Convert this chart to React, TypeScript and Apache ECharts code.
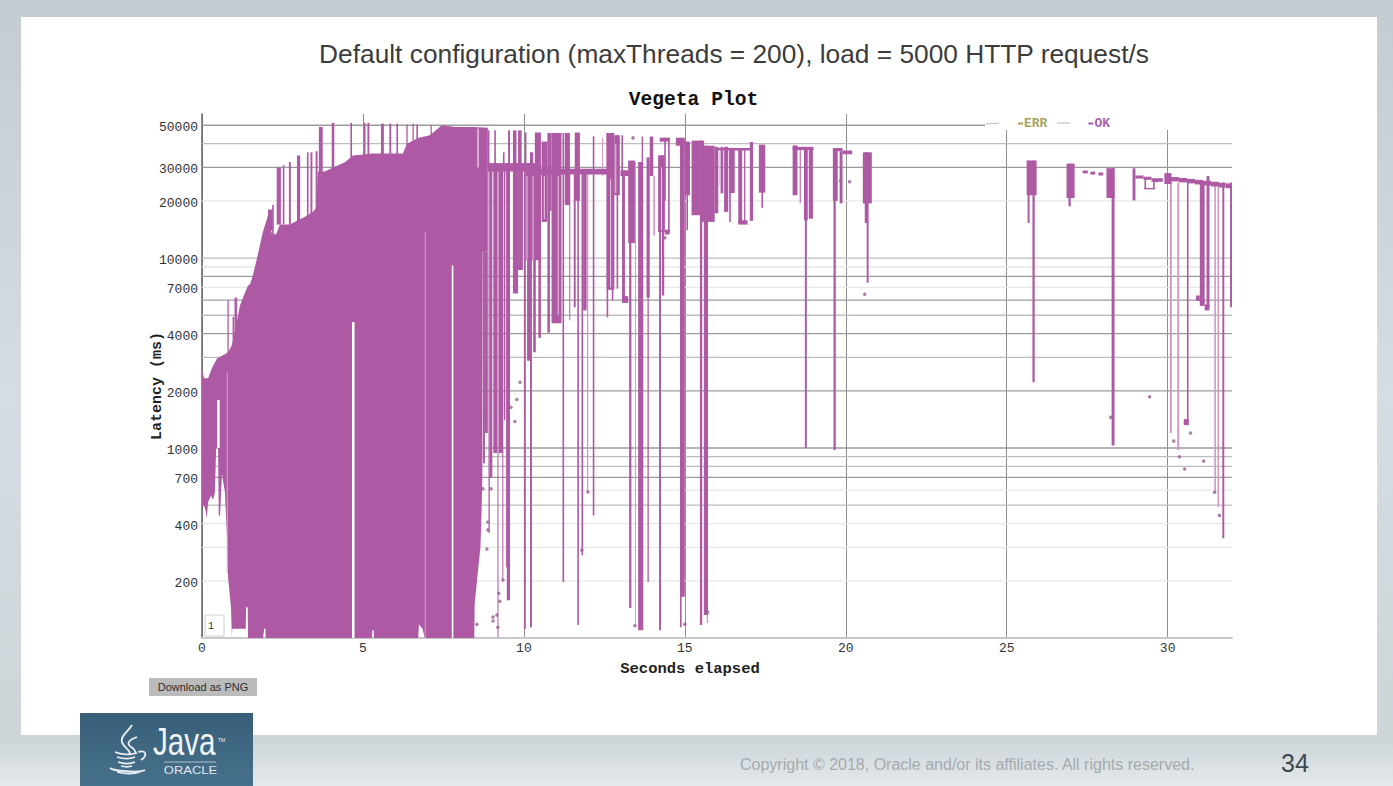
import React, { useEffect, useRef } from "react";
import * as echarts from "echarts";

const slideTitle = "Default configuration (maxThreads = 200), load = 5000 HTTP request/s";
const chartTitle = "Vegeta Plot";
const copyright = "Copyright © 2018, Oracle and/or its affiliates. All rights reserved.";
const pageNumber = "34";

const yTickLabels = [200, 400, 700, 1000, 2000, 4000, 7000, 10000, 20000, 30000, 50000];
const gridValues = [50000, 40000, 30000, 20000, 10000, 9000, 8000, 7000, 6000, 5000, 4000, 3000, 2000, 1000, 900, 800, 700, 600, 500, 400, 300, 200];
const gridTones = [2, 1, 2, 0, 1, 0, 2, 0, 2, 1, 2, 1, 2, 2, 1, 1, 2, 0, 1, 0, 0, 0];

// Solid mass of samples: upper and lower envelope [seconds, latency ms]
const massTop = [
  [0, 2640], [0.06, 2330], [0.19, 2330], [0.31, 2640], [0.47, 2970], [0.71, 3120], [0.81, 3190], [0.93, 3470],
  [1.06, 4420], [1.18, 5630], [1.34, 6600], [1.43, 7170], [1.49, 7260], [1.58, 8100], [1.71, 10000], [1.8, 11700],
  [1.89, 13700], [1.99, 15500], [2.05, 16800], [2.17, 13500], [2.3, 13300], [2.42, 15000], [2.73, 15000], [2.95, 15700],
  [3.2, 16500], [3.45, 17500], [3.54, 18300], [3.57, 21900], [3.6, 28500], [3.82, 28500], [4.07, 30000], [4.44, 31900],
  [4.69, 34700], [5.31, 35500], [6.24, 35500], [6.37, 40000], [6.71, 42800], [7.08, 44300], [7.45, 50000], [7.86, 49000],
  [8.42, 49000], [8.88, 48500],
];
const massBottom = [
  [0, 490], [0.06, 499], [0.11, 470], [0.15, 427], [0.19, 520], [0.28, 563], [0.34, 532], [0.4, 580], [0.44, 1000],
  [0.5, 1000], [0.52, 442], [0.56, 440], [0.62, 730], [0.71, 590], [0.78, 330], [0.81, 208], [0.9, 145], [0.93, 101],
  [0.94, 112], [1.36, 112], [1.37, 145], [1.42, 145], [1.43, 100], [1.9, 100], [1.93, 112], [1.97, 112], [1.98, 100],
  [5.28, 100], [5.29, 110], [5.33, 110], [5.34, 100], [6.72, 100], [6.74, 118], [6.85, 112], [6.92, 100], [8.46, 100],
  [8.47, 150], [8.53, 190], [8.6, 250], [8.65, 300], [8.68, 430], [8.71, 700], [8.72, 10800], [8.88, 10800],
];

// White slits inside the mass [from s, to s, low ms, high ms]
const gaps = [
  [4.66, 4.74, 100, 4600], [7.76, 7.81, 100, 9140], [8.56, 8.59, 30000, 48000], [0.47, 0.55, 1000, 1790],
];
const paleGaps = [[6.92, 6.95, 100, 13700], [0.77, 0.79, 220, 2500]];

// Runs of samples spanning a latency range [from s, to s, low ms, high ms]
const topSpikes = [
  [0.79, 0.83, 3100, 6000], [0.95, 1.0, 3500, 4900], [1.01, 1.09, 3700, 6190], [2.05, 2.2, 14000, 18000], [2.18, 2.23, 13000, 19000],
  [2.32, 2.45, 15000, 30000], [2.51, 2.56, 15000, 30800], [2.7, 2.76, 15000, 32000], [2.95, 3.05, 15000, 34700],
  [3.26, 3.31, 16000, 36000], [3.37, 3.43, 16000, 36000], [3.53, 3.59, 17000, 36500], [3.63, 3.75, 28000, 49000],
  [4.03, 4.11, 30000, 51500], [4.61, 4.66, 33000, 51500], [5.03, 5.08, 33000, 51500], [5.14, 5.2, 33000, 51500],
  [5.56, 5.65, 33000, 51000], [5.82, 5.88, 33000, 51000], [6.04, 6.09, 33000, 51000], [6.35, 6.39, 33000, 50500],
  [6.54, 6.58, 38000, 51000], [6.66, 6.71, 38000, 50500], [7.1, 7.14, 42000, 50000],
];

const dropColumns = [
  [8.73, 8.79, 830, 10800], [8.79, 8.88, 1200, 10800], [8.9, 8.94, 357, 31500], [8.94, 9.02, 702, 31500],
  [9.05, 9.17, 940, 31500], [9.18, 9.2, 101, 31500], [9.22, 9.35, 940, 31500], [9.33, 9.36, 202, 31500],
  [9.38, 9.42, 1400, 31500], [9.44, 9.46, 236, 31500], [9.47, 9.57, 158, 31500], [8.88, 10.2, 28500, 31500],
  [10.2, 12.6, 27500, 29500], [8.88, 8.93, 30000, 47000], [9.08, 9.13, 30000, 47000], [9.35, 9.4, 30000, 36000],
  [9.51, 9.57, 30000, 47000], [9.66, 9.77, 30000, 47000], [9.82, 9.93, 30000, 47000], [10.03, 10.08, 30000, 45800],
  [10.19, 10.29, 30000, 36000], [9.66, 9.82, 6500, 31500], [9.82, 9.97, 8650, 31500], [10.0, 10.06, 112, 31500],
  [10.1, 10.19, 2880, 31500], [10.19, 10.25, 114, 31500], [10.29, 10.37, 3190, 31500], [10.45, 10.53, 3800, 31500],
  [10.06, 10.53, 9730, 31500], [10.34, 10.53, 30000, 45800], [10.55, 10.73, 15500, 41000], [10.73, 10.81, 4050, 45500],
  [10.81, 10.86, 17700, 45500], [10.86, 11.17, 4540, 45500], [11.2, 11.25, 197, 45500], [11.27, 11.43, 19000, 45500],
  [11.41, 11.44, 4700, 28900], [11.55, 11.61, 5500, 28900], [11.58, 11.74, 20000, 45800], [11.66, 11.71, 117, 28900],
  [11.79, 11.84, 273, 28900], [11.84, 11.95, 5300, 28900], [12.14, 12.19, 442, 43700],
];

const midColumns = [
  [12.57, 12.81, 6800, 45500], [12.57, 12.62, 4870, 45500], [12.73, 12.78, 6000, 45500], [12.81, 12.98, 21400, 44300],
  [12.88, 12.93, 6900, 44300], [13.03, 13.08, 27000, 44300], [13.05, 13.14, 6000, 27000], [13.05, 13.24, 5800, 6300],
  [13.0, 13.3, 27000, 29000], [13.24, 13.45, 12000, 32600], [13.27, 13.34, 144, 12000], [13.55, 13.71, 110, 32000],
  [13.66, 13.7, 27000, 43600], [13.81, 13.91, 6200, 33800], [13.84, 13.88, 197, 33800], [13.91, 14.02, 27000, 43600],
  [14.03, 14.06, 13200, 27000], [14.17, 14.38, 13700, 34700], [14.2, 14.26, 110, 34700], [14.29, 14.36, 6350, 34700],
  [14.22, 14.53, 41000, 43000], [14.48, 14.53, 13700, 43000], [14.36, 14.41, 20000, 43000], [14.38, 14.53, 13300, 14100],
  [14.72, 15.0, 39000, 43000], [14.85, 15.0, 165, 42000], [14.85, 14.9, 114, 42000], [15.0, 15.16, 21400, 41000],
  [15.05, 15.1, 14000, 41000], [15.21, 15.47, 16800, 41500], [15.47, 15.6, 15500, 41500], [15.6, 15.93, 15500, 39000],
  [15.47, 15.54, 117, 41500], [15.59, 15.72, 132, 39000], [15.93, 16.04, 17200, 38500], [16.11, 16.19, 21900, 38500],
  [16.22, 16.35, 17500, 38500], [16.38, 16.55, 22000, 38000], [16.38, 16.43, 15500, 38000], [16.0, 17.12, 36800, 38000],
  [16.66, 16.78, 15300, 37500], [16.84, 16.88, 15300, 37500], [16.66, 16.95, 15000, 15800], [17.02, 17.12, 15700, 40800],
  [17.3, 17.5, 22100, 39500], [17.38, 17.43, 18400, 39500],
];

const tailColumns = [
  [18.35, 18.5, 21400, 39200], [18.57, 18.6, 19400, 37500], [18.73, 18.79, 1000, 37500], [18.7, 18.82, 15800, 37500],
  [18.85, 18.98, 16100, 37500], [18.35, 19.0, 37000, 38500], [19.6, 19.75, 20000, 37500], [19.62, 19.69, 975, 37500],
  [19.81, 19.9, 19400, 36500], [19.9, 20.2, 35200, 36800], [19.6, 19.9, 36500, 38000], [20.53, 20.81, 19400, 36000],
  [20.59, 20.68, 15300, 36000], [20.65, 20.71, 7400, 36000], [25.62, 25.93, 21400, 32600], [25.65, 25.71, 15300, 32600],
  [25.8, 25.87, 2220, 32600], [26.86, 27.11, 20700, 31400], [26.92, 26.99, 18700, 31400], [27.36, 27.52, 27900, 28900],
  [27.6, 27.75, 27500, 28500], [27.85, 28.0, 27200, 28200], [28.1, 28.35, 20700, 29700], [28.26, 28.35, 1030, 29700],
  [28.91, 29.0, 20100, 29700], [29.0, 29.25, 26200, 27200], [29.25, 29.5, 25800, 26800], [29.5, 29.85, 25200, 26300],
  [29.28, 29.33, 23000, 25900], [29.28, 29.6, 23000, 23400], [29.55, 29.6, 23000, 25400], [29.9, 30.12, 24500, 28000],
  [30.1, 30.35, 25300, 26700], [30.35, 30.6, 25000, 26400], [30.6, 30.85, 24700, 26100], [30.85, 31.1, 24400, 25800],
  [31.1, 31.35, 24100, 25500], [31.35, 31.6, 23800, 25200], [31.6, 31.8, 23500, 24900], [31.8, 32, 23300, 24700],
  [30.6, 30.65, 1320, 25500], [30.5, 30.65, 1320, 1420], [31.0, 31.15, 5800, 25000], [31.21, 31.3, 5500, 27000],
  [30.88, 31.0, 5950, 6350], [31.0, 31.15, 5600, 6000], [31.15, 31.3, 5300, 5700], [31.7, 31.76, 335, 25000], [31.94, 32, 5500, 25000],
];

const paleColumns = [
  [11.96, 12.0, 587, 28900], [12.43, 12.46, 27000, 43000], [13.45, 13.48, 117, 32000], [15.68, 15.72, 120, 30000],
  [30.07, 30.13, 1200, 25000], [30.3, 30.36, 975, 25000], [31.45, 31.5, 585, 25000], [31.55, 31.6, 490, 25000],
];

// Narrow streaks where samples are missing inside the dense columns
const paleSlits = [
  [10.08, 10.1, 9800, 27000], [10.27, 10.29, 9800, 27000], [10.62, 10.65, 16000, 27000], [11.05, 11.07, 5000, 27000],
  [12.68, 12.7, 7000, 26000], [12.84, 12.86, 22000, 40000], [14.26, 14.28, 14000, 30000], [16.06, 16.08, 24000, 36000],
];

// Isolated samples [seconds, latency ms]
const strayPoints = [
  [29.44, 1860], [28.23, 1450], [30.19, 1090], [30.37, 900], [30.53, 775], [30.71, 1200], [31.12, 855], [31.61, 442], [31.46, 585],
  [8.54, 118], [8.73, 610], [8.98, 610], [8.88, 408], [8.88, 370], [8.85, 294], [9.35, 202], [9.04, 129], [9.04, 123],
  [9.22, 172], [9.25, 156], [9.16, 132], [9.19, 114], [9.72, 1380], [9.6, 1640], [9.78, 1800], [9.88, 2220], [11.8, 290],
  [11.99, 587], [13.45, 116], [15.0, 118], [15.71, 137], [14.38, 12800], [13.39, 42900], [20.12, 25200], [19.84, 25500],
  [20.59, 6450], [29.66, 25500],
];

const PURPLE = "#ad59a4";
const PALE = "#cf97c9";
const MONO = "'Liberation Mono', monospace";
const SANS = "'Liberation Sans', Arial, sans-serif";

echarts.graphic.registerShape(
  "javaCup",
  echarts.graphic.extendPath(
    "M132 725C128 732 120 736 122 742C123 747 131 750 130 755M137 737C131 739 127 742 129 745C131 748 137 749 135 753M115 752C121 755 131 755 137 753M117 757C123 759 130 759 135 757M118 762C124 764 130 764 135 762M121 766C125 767 129 767 132 766M138 752C146 750 148 755 141 760M110 768C113 771 140 773 145 770M117 772C125 774 134 774 140 772",
    {}
  )
);

function spanSeries(data: number[][], color: string) {
  return {
    type: "custom",
    name: "OK",
    silent: true,
    clip: true,
    itemStyle: { color: PURPLE },
    data,
    encode: { x: [0, 1], y: [2, 3] },
    renderItem: (_p: any, api: any) => {
      const a = api.coord([api.value(0), api.value(3)]);
      const b = api.coord([api.value(1), api.value(2)]);
      return {
        type: "rect",
        shape: { x: a[0], y: a[1], width: Math.max(b[0] - a[0], 1), height: b[1] - a[1] },
        style: { fill: color },
      };
    },
  };
}

export default function App() {
  const ref = useRef<HTMLDivElement>(null);
  useEffect(() => {
    const chart = echarts.init(ref.current!, undefined, { renderer: "svg" });
    const tones = ["#e8e8e8", "#bdbdbd", "#9b9b9b"];
    chart.setOption({
      animation: false,
      backgroundColor: "transparent",
      title: [
        {
          text: slideTitle,
          left: 729,
          top: 36,
          textAlign: "center",
          textStyle: { fontFamily: SANS, fontSize: 26.3, fontWeight: "normal", color: "#3c3c3c" },
        },
        {
          text: chartTitle,
          left: 688.5,
          top: 85,
          textAlign: "center",
          textStyle: { fontFamily: MONO, fontSize: 19.6, fontWeight: "bold", color: "#111" },
        },
      ],
      legend: {
        left: 1018,
        top: 117,
        itemWidth: 5,
        itemHeight: 2,
        itemGap: 41,
        icon: "rect",
        padding: 0,
        data: [
          { name: "ERR", textStyle: { color: "#a5a262" } },
          { name: "OK", textStyle: { color: "#a75fae" } },
        ],
        selectedMode: false,
        textStyle: { fontFamily: MONO, fontSize: 13, fontWeight: "bold", padding: [0, 0, 0, -4] },
      },
      grid: { left: 202, right: 161, top: 114, bottom: 148 },
      xAxis: {
        type: "value",
        min: 0,
        max: 32,
        interval: 5,
        name: "Seconds elapsed",
        nameLocation: "middle",
        nameGap: 23,
        nameTextStyle: { fontFamily: MONO, fontSize: 15.5, fontWeight: "bold", color: "#222", padding: [0, 54, 0, 0] },
        axisLine: { onZero: false, lineStyle: { color: "#c9c9c9", width: 2 } },
        axisTick: { show: false },
        axisLabel: {
          fontFamily: MONO,
          fontSize: 13,
          color: "#333",
          margin: 4,
          showMaxLabel: false,
        },
        splitLine: { show: true, showMaxLine: false, lineStyle: { color: "#8f8f8f", width: 1 } },
      },
      yAxis: {
        type: "log",
        logBase: 10,
        min: 100,
        max: 57300,
        name: "Latency (ms)",
        nameLocation: "middle",
        nameGap: 37,
        nameMoveOverlap: false,
        nameRotate: 90,
        nameTextStyle: { fontFamily: MONO, fontSize: 15, fontWeight: "bold", color: "#222", padding: [0, 20, 0, 0] },
        axisLine: { show: true, onZero: false, lineStyle: { color: "#666", width: 1.5 } },
        axisTick: { show: false },
        axisLabel: {
          fontFamily: MONO,
          fontSize: 13,
          color: "#333",
          margin: 4,
          lineHeight: 11,
          verticalAlign: "top",
          padding: [-3, 0, 0, 0],
          customValues: yTickLabels,
          formatter: (v: number) => String(v),
        },
        splitLine: { show: false },
      },
      series: [
        {
          type: "custom",
          name: "grid",
          silent: true,
          z: 1,
          clip: true,
          data: gridValues.map((v, i) => [v, gridTones[i]]),
          encode: { y: 0 },
          renderItem: (_p: any, api: any) => {
            const a = api.coord([0, api.value(0)]);
            const b = api.coord([32, api.value(0)]);
            return {
              type: "line",
              shape: { x1: a[0], y1: a[1], x2: b[0], y2: b[1] },
              style: { stroke: tones[api.value(1)], lineWidth: 1.3 },
            };
          },
        },
        { type: "line", name: "ERR", data: [], itemStyle: { color: "#a5a262" }, lineStyle: { color: "#a5a262" }, symbol: "none" },
        {
          type: "custom",
          name: "OK",
          silent: true,
          clip: true,
          itemStyle: { color: PURPLE },
          data: [[0, 100]],
          encode: { x: 0, y: 1 },
          renderItem: (_p: any, api: any) => ({
            type: "polygon",
            shape: {
              points: [...massTop, ...[...massBottom].reverse()].map((p) => api.coord(p)),
            },
            style: { fill: PURPLE },
          }),
        },
        spanSeries(gaps, "#ffffff"),
        spanSeries(paleGaps, "#d5a4ce"),
        spanSeries(paleColumns, PALE),
        spanSeries(topSpikes, PURPLE),
        spanSeries(dropColumns, PURPLE),
        spanSeries(midColumns, PURPLE),
        spanSeries(tailColumns, PURPLE),
        spanSeries(paleSlits, "#e7c9e3"),
        {
          type: "scatter",
          name: "OK",
          silent: true,
          symbolSize: 3.5,
          itemStyle: { color: "#96628f" },
          data: strayPoints,
        },
      ],
      graphic: [
        { type: "rect", z: 3, silent: true, shape: { x: 985, y: 113, width: 250, height: 17 }, style: { fill: "#ffffff" } },
        { type: "line", z: 3, silent: true, shape: { x1: 986, y1: 124, x2: 999, y2: 123 }, style: { stroke: "#b8b8b8", lineWidth: 1 } },
        { type: "line", z: 5, silent: true, shape: { x1: 1057, y1: 123, x2: 1070, y2: 123 }, style: { stroke: "#b8b8b8", lineWidth: 1 } },
        { type: "rect", z: 5, silent: true, shape: { x: 205, y: 615, width: 19, height: 21 }, style: { fill: "#ffffff", stroke: "#d0d0d0", lineWidth: 1 } },
        { type: "text", z: 6, silent: true, style: { x: 208, y: 621, text: "1", font: `10px ${MONO}`, fill: "#333" } },
        { type: "rect", silent: true, shape: { x: 149, y: 678, width: 108, height: 18 }, style: { fill: "#bbbbbb" } },
        { type: "text", silent: true, style: { x: 203, y: 687, text: "Download as PNG", font: `11px ${SANS}`, fill: "#2e2e2e", align: "center", verticalAlign: "middle" } },
        { type: "text", silent: true, style: { x: 740, y: 764, text: copyright, font: `16px ${SANS}`, fill: "#a3abae", verticalAlign: "middle" } },
        { type: "text", silent: true, style: { x: 1281, y: 763, text: pageNumber, font: `25px ${SANS}`, fill: "#3d484e", verticalAlign: "middle" } },
        {
          type: "rect",
          silent: true,
          shape: { x: 80, y: 713, width: 173, height: 73 },
          style: {
            fill: new echarts.graphic.LinearGradient(0, 0, 0, 1, [
              { offset: 0, color: "#375f78" },
              { offset: 1, color: "#47708c" },
            ]),
          },
        },
        { type: "javaCup", silent: true, x: 0, y: 0, style: { fill: "none", stroke: "#e8eef1", lineWidth: 1.8 } },
        { type: "text", silent: true, x: 153, y: 761, scaleX: 0.78, style: { x: 0, y: 0, text: "Java", font: `38px ${SANS}`, fill: "#f2f5f7", verticalAlign: "bottom" } },
        { type: "text", silent: true, style: { x: 218, y: 737, text: "TM", font: `5px ${SANS}`, fill: "#e8eef1" } },
        { type: "line", silent: true, shape: { x1: 164, y1: 762, x2: 216, y2: 762 }, style: { stroke: "#a9bfcc", lineWidth: 1 } },
        { type: "text", silent: true, x: 190.5, y: 770.5, scaleY: 0.8, style: { x: 0, y: 0, text: "ORACLE", font: `13px ${SANS}`, fill: "#dfe7ec", align: "center", verticalAlign: "middle" } },
      ],
    });
    return () => chart.dispose();
  }, []);

  return (
    <div
      style={{
        position: "fixed",
        left: 0,
        top: 0,
        width: 1393,
        height: 786,
        overflow: "hidden",
        background: "linear-gradient(180deg,#c2ccd1 0%,#d4dde1 50%,#cdd5d9 94%,#e4e9eb 100%)",
      }}
    >
      <div style={{ position: "absolute", left: 21, top: 17, width: 1356, height: 718, background: "#ffffff" }} />
      <div ref={ref} style={{ position: "absolute", left: 0, top: 0, width: 1393, height: 786 }} />
    </div>
  );
}
